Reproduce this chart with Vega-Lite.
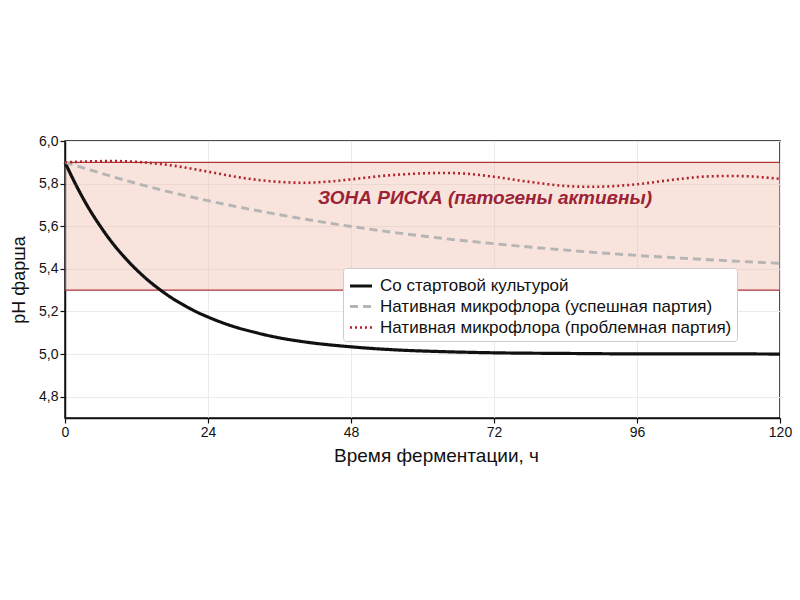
{
  "$schema": "https://vega.github.io/schema/vega-lite/v6.json",
  "width": 715,
  "height": 277,
  "autosize": {"type": "none"},
  "padding": {"left": 65, "top": 141, "right": 20, "bottom": 182},
  "config": {
    "font": "Liberation Sans",
    "locale": {"number": {"decimal": ",", "thousands": " ", "grouping": [3], "currency": ["", ""]}},
    "view": {"stroke": "#111", "strokeWidth": 1.5},
    "axis": {
      "domainColor": "#111",
      "domainWidth": 1.5,
      "tickColor": "#111",
      "tickSize": 5,
      "tickWidth": 1.2,
      "gridColor": "#ebebeb",
      "labelColor": "#111",
      "labelFontSize": 14,
      "labelFlush": false,
      "titleColor": "#111",
      "titleFontSize": 18,
      "titleFontWeight": "normal"
    }
  },
  "data": {
    "values": [
      {"t": 0, "ph": 5.900, "series": "Со стартовой культурой"},
      {"t": 2, "ph": 5.785, "series": "Со стартовой культурой"},
      {"t": 4, "ph": 5.684, "series": "Со стартовой культурой"},
      {"t": 6, "ph": 5.597, "series": "Со стартовой культурой"},
      {"t": 8, "ph": 5.520, "series": "Со стартовой культурой"},
      {"t": 10, "ph": 5.454, "series": "Со стартовой культурой"},
      {"t": 12, "ph": 5.396, "series": "Со стартовой культурой"},
      {"t": 14, "ph": 5.345, "series": "Со стартовой культурой"},
      {"t": 16, "ph": 5.301, "series": "Со стартовой культурой"},
      {"t": 18, "ph": 5.262, "series": "Со стартовой культурой"},
      {"t": 20, "ph": 5.229, "series": "Со стартовой культурой"},
      {"t": 22, "ph": 5.199, "series": "Со стартовой культурой"},
      {"t": 24, "ph": 5.174, "series": "Со стартовой культурой"},
      {"t": 28, "ph": 5.132, "series": "Со стартовой культурой"},
      {"t": 32, "ph": 5.101, "series": "Со стартовой культурой"},
      {"t": 36, "ph": 5.076, "series": "Со стартовой культурой"},
      {"t": 40, "ph": 5.058, "series": "Со стартовой культурой"},
      {"t": 48, "ph": 5.034, "series": "Со стартовой культурой"},
      {"t": 56, "ph": 5.019, "series": "Со стартовой культурой"},
      {"t": 64, "ph": 5.011, "series": "Со стартовой культурой"},
      {"t": 72, "ph": 5.006, "series": "Со стартовой культурой"},
      {"t": 84, "ph": 5.003, "series": "Со стартовой культурой"},
      {"t": 96, "ph": 5.001, "series": "Со стартовой культурой"},
      {"t": 108, "ph": 5.001, "series": "Со стартовой культурой"},
      {"t": 120, "ph": 5.000, "series": "Со стартовой культурой"},
      {"t": 0, "ph": 5.900, "series": "Нативная микрофлора (успешная партия)"},
      {"t": 6, "ph": 5.849, "series": "Нативная микрофлора (успешная партия)"},
      {"t": 12, "ph": 5.801, "series": "Нативная микрофлора (успешная партия)"},
      {"t": 18, "ph": 5.758, "series": "Нативная микрофлора (успешная партия)"},
      {"t": 24, "ph": 5.720, "series": "Нативная микрофлора (успешная партия)"},
      {"t": 36, "ph": 5.654, "series": "Нативная микрофлора (успешная партия)"},
      {"t": 48, "ph": 5.599, "series": "Нативная микрофлора (успешная партия)"},
      {"t": 60, "ph": 5.554, "series": "Нативная микрофлора (успешная партия)"},
      {"t": 72, "ph": 5.518, "series": "Нативная микрофлора (успешная партия)"},
      {"t": 84, "ph": 5.488, "series": "Нативная микрофлора (успешная партия)"},
      {"t": 96, "ph": 5.463, "series": "Нативная микрофлора (успешная партия)"},
      {"t": 108, "ph": 5.443, "series": "Нативная микрофлора (успешная партия)"},
      {"t": 120, "ph": 5.426, "series": "Нативная микрофлора (успешная партия)"},
      {"t": 0, "ph": 5.900, "series": "Нативная микрофлора (проблемная партия)"},
      {"t": 4, "ph": 5.904, "series": "Нативная микрофлора (проблемная партия)"},
      {"t": 8, "ph": 5.906, "series": "Нативная микрофлора (проблемная партия)"},
      {"t": 12, "ph": 5.902, "series": "Нативная микрофлора (проблемная партия)"},
      {"t": 18, "ph": 5.885, "series": "Нативная микрофлора (проблемная партия)"},
      {"t": 24, "ph": 5.856, "series": "Нативная микрофлора (проблемная партия)"},
      {"t": 30, "ph": 5.826, "series": "Нативная микрофлора (проблемная партия)"},
      {"t": 36, "ph": 5.808, "series": "Нативная микрофлора (проблемная партия)"},
      {"t": 40, "ph": 5.804, "series": "Нативная микрофлора (проблемная партия)"},
      {"t": 44, "ph": 5.809, "series": "Нативная микрофлора (проблемная партия)"},
      {"t": 48, "ph": 5.820, "series": "Нативная микрофлора (проблемная партия)"},
      {"t": 54, "ph": 5.838, "series": "Нативная микрофлора (проблемная партия)"},
      {"t": 60, "ph": 5.848, "series": "Нативная микрофлора (проблемная партия)"},
      {"t": 64, "ph": 5.850, "series": "Нативная микрофлора (проблемная партия)"},
      {"t": 68, "ph": 5.845, "series": "Нативная микрофлора (проблемная партия)"},
      {"t": 72, "ph": 5.832, "series": "Нативная микрофлора (проблемная партия)"},
      {"t": 78, "ph": 5.808, "series": "Нативная микрофлора (проблемная партия)"},
      {"t": 84, "ph": 5.789, "series": "Нативная микрофлора (проблемная партия)"},
      {"t": 88, "ph": 5.785, "series": "Нативная микрофлора (проблемная партия)"},
      {"t": 92, "ph": 5.788, "series": "Нативная микрофлора (проблемная партия)"},
      {"t": 96, "ph": 5.797, "series": "Нативная микрофлора (проблемная партия)"},
      {"t": 102, "ph": 5.818, "series": "Нативная микрофлора (проблемная партия)"},
      {"t": 108, "ph": 5.834, "series": "Нативная микрофлора (проблемная партия)"},
      {"t": 112, "ph": 5.836, "series": "Нативная микрофлора (проблемная партия)"},
      {"t": 116, "ph": 5.832, "series": "Нативная микрофлора (проблемная партия)"},
      {"t": 120, "ph": 5.822, "series": "Нативная микрофлора (проблемная партия)"}
    ]
  },
  "layer": [
    {
      "data": {"values": [{"x0": 0, "x1": 120, "lo": 5.3, "hi": 5.9}]},
      "mark": {"type": "rect", "fill": "#eebfae", "opacity": 0.42},
      "encoding": {
        "x": {"field": "x0", "type": "quantitative"},
        "x2": {"field": "x1"},
        "y": {"field": "lo", "type": "quantitative"},
        "y2": {"field": "hi"}
      }
    },
    {
      "data": {"values": [{"level": 5.3}, {"level": 5.9}]},
      "mark": {"type": "rule", "color": "#ac3538", "strokeWidth": 1.2},
      "encoding": {
        "y": {"field": "level", "type": "quantitative"}
      }
    },
    {
      "mark": {"type": "line", "interpolate": "monotone"},
      "encoding": {
        "x": {
          "field": "t",
          "type": "quantitative",
          "title": "Время ферментации, ч",
          "scale": {"domain": [0, 120], "nice": false},
          "axis": {"values": [0, 24, 48, 72, 96, 120], "titlePadding": 7, "titleFontSize": 19, "titleX": 371, "titleAlign": "center"}
        },
        "y": {
          "field": "ph",
          "type": "quantitative",
          "title": "pH фарша",
          "scale": {"domain": [4.7, 6.0], "nice": false, "zero": false},
          "axis": {"values": [4.8, 5.0, 5.2, 5.4, 5.6, 5.8, 6.0], "format": ".1f", "titlePadding": 10}
        },
        "color": {
          "field": "series",
          "type": "nominal",
          "title": null,
          "scale": {
            "domain": ["Со стартовой культурой", "Нативная микрофлора (успешная партия)", "Нативная микрофлора (проблемная партия)"],
            "range": ["#111111", "#b5b5b5", "#b2222b"]
          },
          "legend": {
            "orient": "none",
            "legendX": 278,
            "legendY": 127,
            "symbolType": "stroke",
            "symbolSize": 484,
            "symbolStrokeWidth": 2.5,
            "labelFontSize": 17,
            "labelLimit": 0,
            "labelColor": "#111",
            "labelOffset": 6,
            "rowPadding": 0,
            "padding": 5,
            "fillColor": "white",
            "strokeColor": "#cccccc",
            "cornerRadius": 3
          }
        },
        "strokeDash": {
          "field": "series",
          "type": "nominal",
          "title": null,
          "scale": {
            "domain": ["Со стартовой культурой", "Нативная микрофлора (успешная партия)", "Нативная микрофлора (проблемная партия)"],
            "range": [[1, 0], [8, 5], [2, 3]]
          }
        },
        "strokeWidth": {
          "field": "series",
          "type": "nominal",
          "title": null,
          "scale": {
            "domain": ["Со стартовой культурой", "Нативная микрофлора (успешная партия)", "Нативная микрофлора (проблемная партия)"],
            "range": [3.2, 2.6, 2]
          }
        }
      }
    },
    {
      "data": {"values": [{"x": 70.5, "y": 5.732, "label": "ЗОНА РИСКА (патогены активны)"}]},
      "mark": {"type": "text", "fontSize": 19, "fontWeight": "bold", "fontStyle": "italic", "color": "#9b2335", "align": "center", "baseline": "middle"},
      "encoding": {
        "x": {"field": "x", "type": "quantitative"},
        "y": {"field": "y", "type": "quantitative"},
        "text": {"field": "label"}
      }
    }
  ]
}
